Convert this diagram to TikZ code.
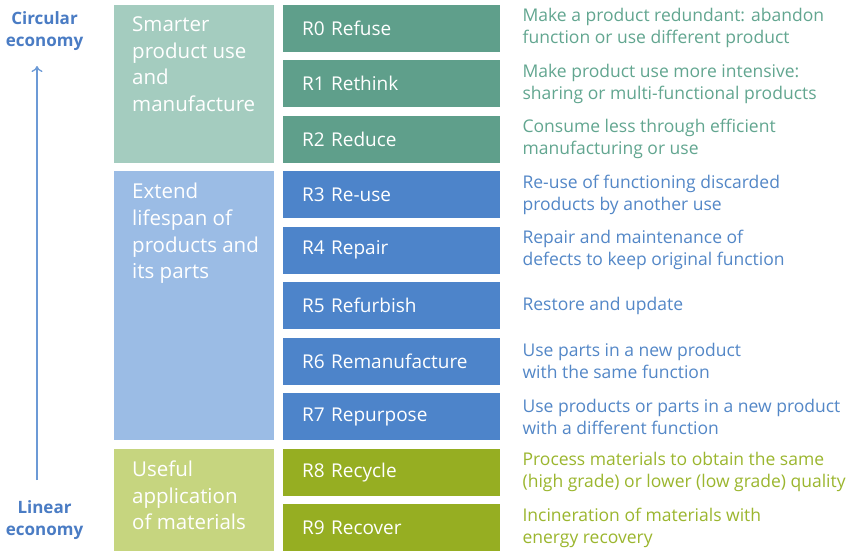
\documentclass[tikz,border=0pt]{standalone}
\usepackage{fontspec}
\setmainfont{Open Sans}
\usetikzlibrary{arrows.meta}
\definecolor{catA}{HTML}{A4CCBF}
\definecolor{rA}{HTML}{5F9F8B}
\definecolor{txA}{HTML}{62A690}
\definecolor{catB}{HTML}{9BBCE5}
\definecolor{rB}{HTML}{4D84CA}
\definecolor{txB}{HTML}{5387C7}
\definecolor{catC}{HTML}{C6D57F}
\definecolor{rC}{HTML}{96AE22}
\definecolor{txC}{HTML}{9BB62E}
\definecolor{axis}{HTML}{4A7CC4}
\definecolor{axisline}{HTML}{6C9AD6}
\begin{document}
\begin{tikzpicture}[x=1pt,y=-1pt,
  rbox/.style={rectangle, fill=#1, minimum width=217pt, minimum height=47pt,
    inner xsep=19pt, inner ysep=0pt, text width=179pt, align=left,
    anchor=north west, text=white, font=\fontsize{19}{22}\selectfont},
  catbox/.style={rectangle, fill=#1, minimum width=160pt, inner sep=0pt,
    anchor=north west},
  cattext/.style={anchor=north west, inner sep=0pt, align=left, text=white,
    font=\fontsize{20.5}{26.7}\selectfont},
  desc/.style={anchor=west, inner sep=0pt, align=left, text=#1,
    font=\fontsize{17.5}{22}\selectfont},
  axislabel/.style={inner sep=0pt, align=center, text=axis,
    font=\fontsize{17}{22.5}\selectfont\bfseries}
]
\useasboundingbox (0,0) rectangle (851,554);
\fill[white] (0,0) rectangle (851,554);

% category boxes
\node[catbox=catA, minimum height=158pt] (cA) at (114,4.5) {};
\node[catbox=catB, minimum height=269pt] (cB) at (114,171) {};
\node[catbox=catC, minimum height=102.5pt] (cC) at (114,448.5) {};
\node[cattext] (tA) at ([shift={(18pt,-12pt)}]cA.north west) {Smarter\\product use\\and\\manufacture};
\node[cattext] (tB) at ([shift={(18pt,-12pt)}]cB.north west) {Extend\\lifespan of\\products and\\its parts};
\node[cattext] (tC) at ([shift={(18pt,-12pt)}]cC.north west) {Useful\\application\\of materials};

% R boxes
\node[rbox=rA] (r0) at (283,4.5) {R0 Refuse};
\node[rbox=rA] (r1) at (283,60) {R1 Rethink};
\node[rbox=rA] (r2) at (283,115.5) {R2 Reduce};
\node[rbox=rB] (r3) at (283,171) {R3 Re-use};
\node[rbox=rB] (r4) at (283,226.5) {R4 Repair};
\node[rbox=rB] (r5) at (283,282) {R5 Refurbish};
\node[rbox=rB] (r6) at (283,337.5) {R6 Remanufacture};
\node[rbox=rB] (r7) at (283,393) {R7 Repurpose};
\node[rbox=rC] (r8) at (283,448.5) {R8 Recycle};
\node[rbox=rC] (r9) at (283,504) {R9 Recover};

% descriptions
\node[desc=txA] (d0) at ([xshift=22pt]r0.east) {Make a product redundant: abandon\\function or use different product};
\node[desc=txA] (d1) at ([xshift=22pt]r1.east) {Make product use more intensive:\\sharing or multi-functional products};
\node[desc=txA] (d2) at ([xshift=22pt]r2.east) {Consume less through efficient\\manufacturing or use};
\node[desc=txB] (d3) at ([xshift=22pt]r3.east) {Re-use of functioning discarded\\products by another use};
\node[desc=txB] (d4) at ([xshift=22pt]r4.east) {Repair and maintenance of\\defects to keep original function};
\node[desc=txB] (d5) at ([xshift=22pt]r5.east) {Restore and update};
\node[desc=txB] (d6) at ([xshift=22pt]r6.east) {Use parts in a new product\\with the same function};
\node[desc=txB] (d7) at ([xshift=22pt]r7.east) {Use products or parts in a new product\\with a different function};
\node[desc=txC] (d8) at ([xshift=22pt]r8.east) {Process materials to obtain the same\\(high grade) or lower (low grade) quality};
\node[desc=txC] (d9) at ([xshift=22pt]r9.east) {Incineration of materials with\\energy recovery};

% axis
\node[axislabel] (circ) at (44.5,31) {Circular\\economy};
\node[axislabel] (lin) at (44.5,520) {Linear\\economy};
\coordinate (abot) at (37,480);
\coordinate (atop) at (37,66);
\draw[axisline, line width=1.5pt, -{To[length=6pt,width=11pt,line width=1.3pt]}] (abot) -- (atop);
\end{tikzpicture}
\end{document}
